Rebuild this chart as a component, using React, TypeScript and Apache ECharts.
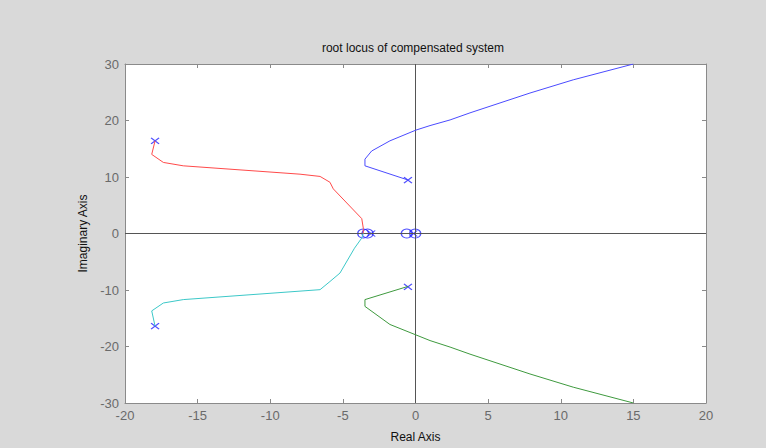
import React, { useEffect, useRef } from "react";
import * as echarts from "echarts";

const xTicks = [-20, 20, 5];
const yTicks = [-30, 30, 10];

const blueRe = [-0.52, -3.48, -3.48, -3.02, -1.76, 0.03, 1.0, 2.38, 3.75, 7.88, 10.86, 15.0];
const blueIm = [9.47, 11.98, 13.16, 14.6, 16.4, 18.3, 19.1, 20.1, 21.35, 24.86, 27.2, 30.0];

const greenRe = [-0.5, -3.48, -3.48, -1.76, 0.03, 1.0, 2.38, 3.75, 7.88, 10.86, 15.0];
const greenIm = [-9.35, -11.7, -12.9, -16.1, -17.95, -18.95, -20.1, -21.35, -24.86, -27.2, -30.0];

const redRe = [-17.93, -18.16, -17.36, -15.99, -7.95, -6.57, -5.89, -5.66, -3.7, -3.59, -3.6];
const redIm = [16.4, 14.0, 12.58, 11.98, 10.5, 10.1, 9.07, 7.9, 2.63, 0.88, 0];

const cyanRe = [-17.93, -18.16, -17.36, -15.99, -6.57, -5.89, -5.2, -4.2, -3.7, -3.6];
const cyanIm = [-16.4, -13.7, -12.3, -11.7, -9.94, -8.5, -7.0, -2.6, -0.8, 0];

const poleRe = [-17.93, -17.93, -0.52, -0.52, -3.05, -0.15];
const poleIm = [16.4, -16.4, 9.45, -9.45, 0, 0];

const zeroRe = [-3.6, -3.3, -0.6, -0.02];
const zeroIm = [0, 0, 0, 0];

const zip = (a: number[], b: number[]) => a.map((v, i) => [v, b[i]]);

export default function App() {
  const ref = useRef<HTMLDivElement>(null);
  useEffect(() => {
    if (!ref.current) return;
    const chart = echarts.init(ref.current, null, { renderer: "svg" });
    const labelStyle = {
      color: "#6a6a6a",
      fontSize: 13,
      fontFamily: "Liberation Sans, Arial, sans-serif",
    };
    const axisLine = { show: true, lineStyle: { color: "#8a8a8a", width: 1 } };
    const axisTick = { show: true, inside: true, length: 4, lineStyle: { color: "#8a8a8a" } };
    const lineSeries = (data: number[][], color: string) => ({
      type: "line",
      data,
      showSymbol: false,
      symbol: "none",
      silent: true,
      lineStyle: { color, width: 1 },
      xAxisIndex: 0,
      yAxisIndex: 0,
    });
    chart.setOption({
      animation: false,
      backgroundColor: "#d9d9d9",
      grid: {
        left: 125,
        right: 60,
        top: 64,
        bottom: 42,
        show: true,
        backgroundColor: "#ffffff",
        borderWidth: 0,
      },
      graphic: [
        {
          type: "text",
          x: 413,
          y: 48,
          style: {
            text: "root locus of compensated system",
            align: "center",
            verticalAlign: "middle",
            fill: "#111",
            font: "12px Liberation Sans, Arial, sans-serif",
          },
        },
      ],
      xAxis: [
        {
          type: "value",
          min: xTicks[0],
          max: xTicks[1],
          interval: xTicks[2],
          position: "bottom",
          axisLine: { ...axisLine, onZero: false },
          axisTick,
          splitLine: { show: false },
          axisLabel: { ...labelStyle, margin: 6 },
          name: "Real Axis",
          nameLocation: "middle",
          nameGap: 28,
          nameTextStyle: { color: "#111", fontSize: 12, fontFamily: "Liberation Sans, Arial, sans-serif" },
        },
        {
          type: "value",
          min: xTicks[0],
          max: xTicks[1],
          interval: xTicks[2],
          position: "top",
          axisLine: { ...axisLine, onZero: false },
          axisTick,
          splitLine: { show: false },
          axisLabel: { show: false },
        },
      ],
      yAxis: [
        {
          type: "value",
          min: yTicks[0],
          max: yTicks[1],
          interval: yTicks[2],
          position: "left",
          axisLine: { ...axisLine, onZero: false },
          axisTick,
          splitLine: { show: false },
          axisLabel: { ...labelStyle, margin: 6 },
          name: "Imaginary Axis",
          nameLocation: "middle",
          nameGap: 34,
          nameTextStyle: { color: "#111", fontSize: 12, fontFamily: "Liberation Sans, Arial, sans-serif" },
        },
        {
          type: "value",
          min: yTicks[0],
          max: yTicks[1],
          interval: yTicks[2],
          position: "right",
          axisLine: { ...axisLine, onZero: false },
          axisTick,
          splitLine: { show: false },
          axisLabel: { show: false },
        },
      ],
      series: [
        lineSeries([[0, yTicks[0]], [0, yTicks[1]]], "#555555"),
        lineSeries([[xTicks[0], 0], [xTicks[1], 0]], "#555555"),
        lineSeries(zip(redRe, redIm), "#ff4a4a"),
        lineSeries(zip(cyanRe, cyanIm), "#3cc8c8"),
        lineSeries(zip(blueRe, blueIm), "#4b4bff"),
        lineSeries(zip(greenRe, greenIm), "#3f9a3f"),
        {
          type: "scatter",
          data: zip(zeroRe, zeroIm),
          symbol: "circle",
          symbolSize: [11, 9],
          silent: true,
          itemStyle: { color: "transparent", borderColor: "#2222ff", borderWidth: 1.2 },
        },
        {
          type: "scatter",
          data: zip(poleRe, poleIm),
          symbol: "path://M0,0L10,10M10,0L0,10",
          symbolSize: [8, 6],
          silent: true,
          itemStyle: { color: "transparent", borderColor: "#2222ff", borderWidth: 1.2 },
        },
      ],
    });
    return () => chart.dispose();
  }, []);
  return (
    <div
      ref={ref}
      style={{ position: "fixed", left: 0, top: 0, width: 766, height: 448 }}
    />
  );
}
